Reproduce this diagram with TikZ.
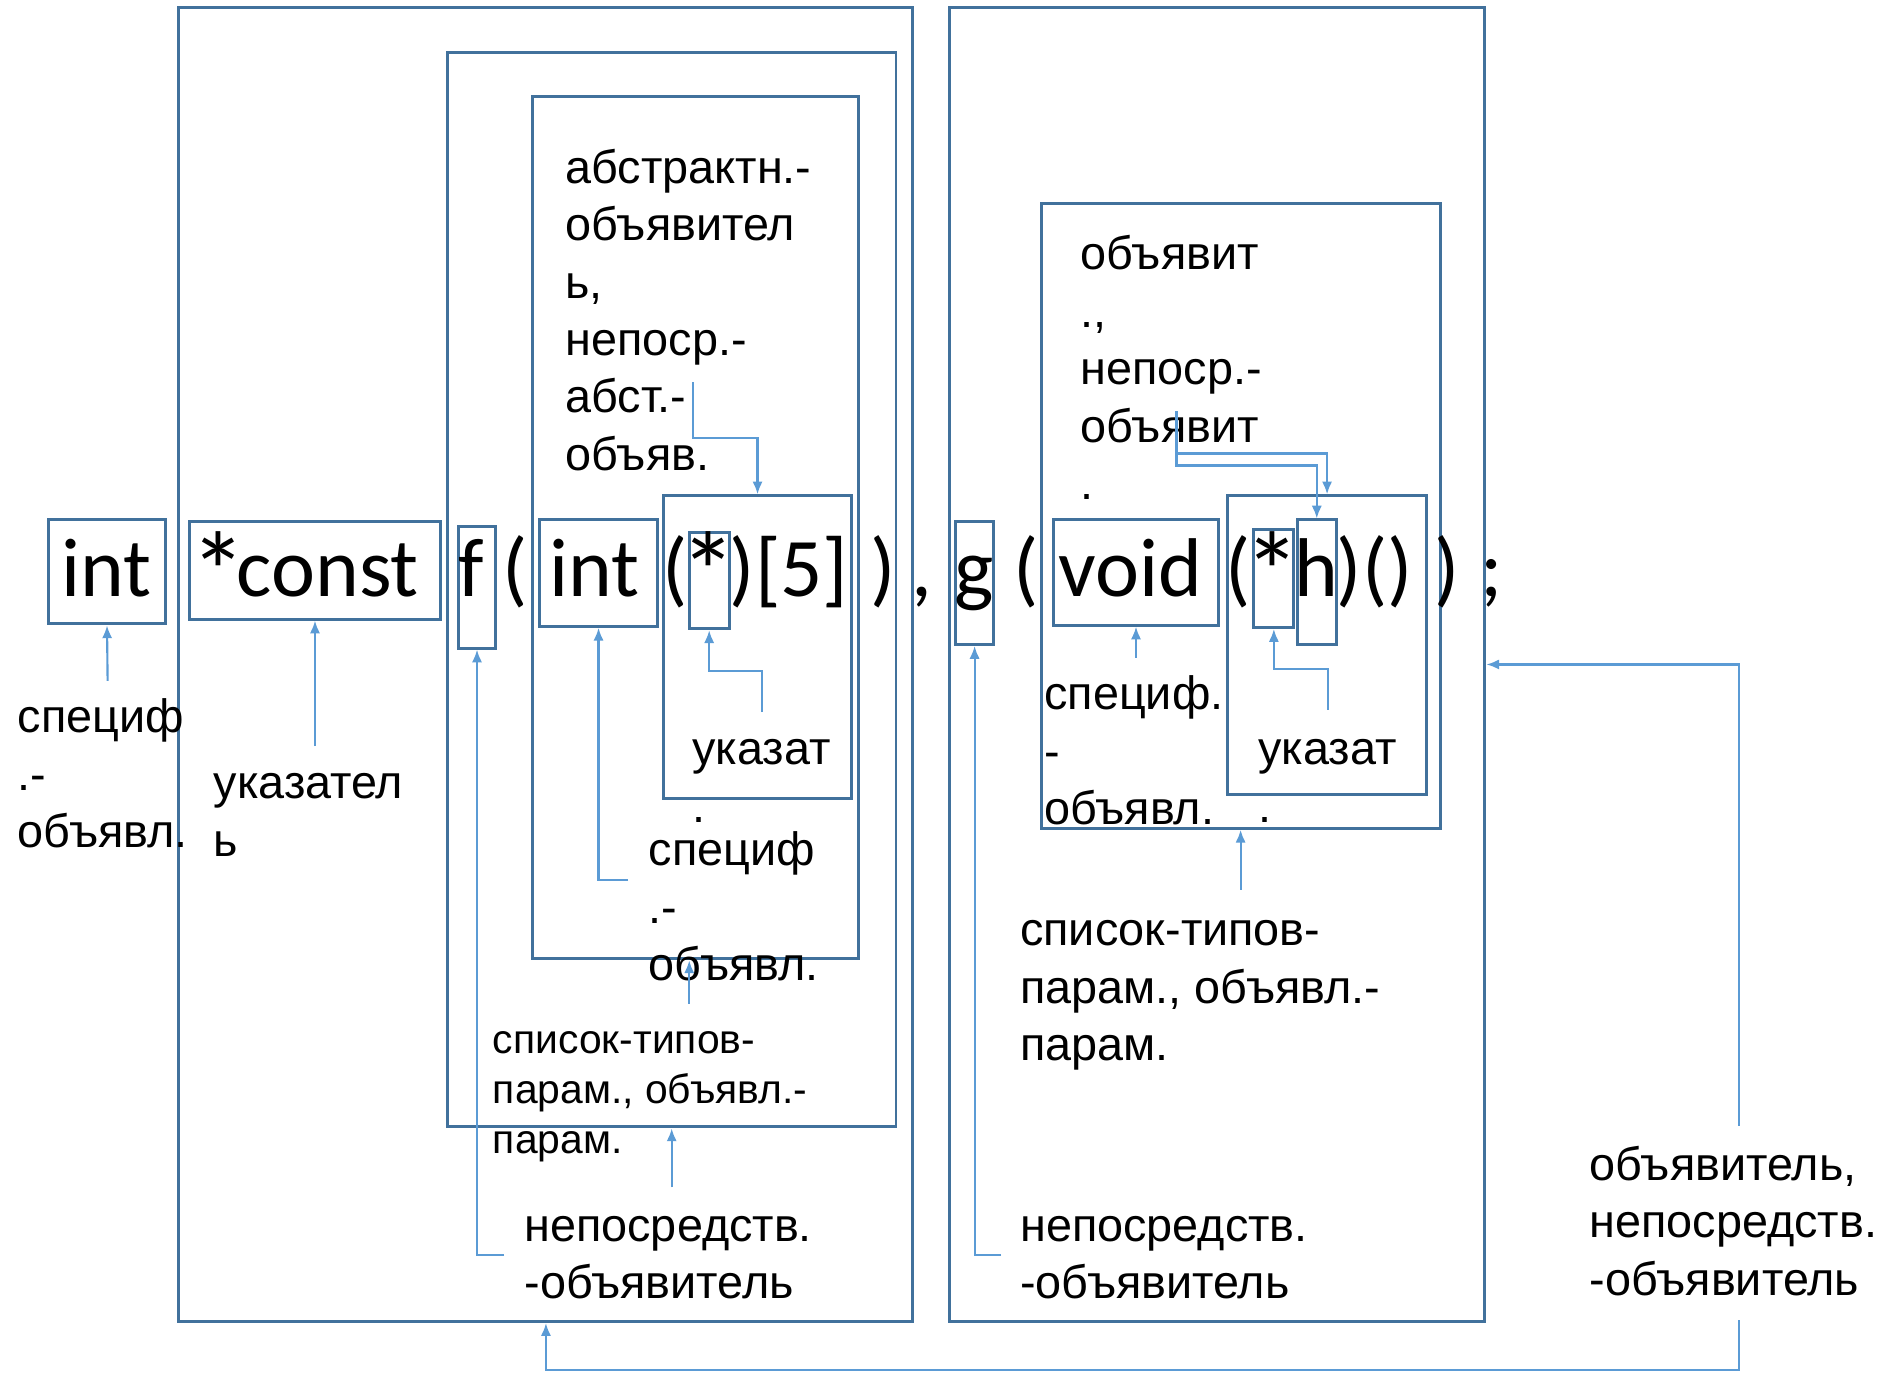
\documentclass[tikz,border=0pt]{standalone}
\usepackage{graphicx}
\usepackage{fontspec}
\setmainfont{Liberation Sans}
\newfontfamily\codefont{Carlito}
\usetikzlibrary{fit,arrows.meta}
\definecolor{boxblue}{RGB}{65,113,156}
\definecolor{linkblue}{RGB}{91,155,213}
\newcommand{\codestar}{\raisebox{-0.18em}{\scalebox{1.35}{*}}}
\tikzset{
  box/.style={draw=boxblue, line width=0.7pt, inner sep=0pt},
  conn/.style={draw=linkblue, line width=0.5pt, -{Latex[length=3pt,width=2.4pt]}},
  code/.style={anchor=base, inner sep=0pt, font=\codefont\fontsize{19.6}{22}\selectfont},
  lbl/.style={anchor=base west, align=left, inner sep=0pt, font=\fontsize{11}{13.5}\selectfont},
}
\begin{document}
\begin{tikzpicture}[x=0.01cm,y=-0.01cm]
        \useasboundingbox (0,0) rectangle (1568,1135);

        \node[box, fit={(148,6) (755,1093)}] (bLeft) {};
        \node[box, fit={(370,43) (741,932)}] (bFun) {};
        \node[box, fit={(440,80) (710,793)}] (bAbs) {};
        \node[box, fit={(549,410) (704,660)}] (bPtr) {};
        \node[box, fit={(40,430) (137,516)}] (bInt) {};
        \node[box, fit={(157,431) (364,512)}] (bConst) {};
        \node[box, fit={(379,435) (410,536)}] (bF) {};
        \node[box, fit={(446,430) (544,518)}] (bInt2) {};
        \node[box, fit={(570,440) (603,520)}] (bStar) {};
        \node[box, fit={(785,6) (1228,1093)}] (bRight) {};
        \node[box, fit={(861,168) (1191,685)}] (bPar) {};
        \node[box, fit={(1015,410) (1180,657)}] (bPtr2) {};
        \node[box, fit={(790,431) (822,533)}] (bG) {};
        \node[box, fit={(871,430) (1008,517)}] (bVoid) {};
        \node[box, fit={(1037,438) (1070,519)}] (bStar2) {};
        \node[box, fit={(1073,430) (1105,533)}] (bH) {};

        \node[code] (tInt) at (88,493) {int};
        \node[code] (tConst) at (252,493) {\codestar\kern-0.12em const};
        \node[code] (tF) at (390,493) {f};
        \node[code] (tOpen) at (426,493) {(};
        \node[code] (tInt2) at (492,493) {int};
        \node[code] (tOpen2) at (558,493) {(};
        \node[code] (tStar) at (586,493) {\codestar};
        \node[code] (tClose2) at (614,493) {)};
        \node[code] (tDim) at (663,493) {[5]};
        \node[code] (tClose) at (730,493) {)};
        \node[code] (tComma) at (762,493) {,};
        \node[code] (tG) at (806,493) {g};
        \node[code] (tOpen3) at (849,493) {(};
        \node[code] (tVoid) at (935,493) {void};
        \node[code] (tOpen4) at (1024,493) {(};
        \node[code] (tStar2) at (1052,493) {\codestar};
        \node[code] (tH) at (1089,493) {h};
        \node[code] (tTail) at (1137,493) {)()};
        \node[code] (tClose3) at (1197,493) {)};
        \node[code] (tSemi) at (1234,493) {;};

        \node[lbl] (lSpec) at (14,701) {специф\\.-\\объявл.};
        \node[lbl] (lPtr) at (176,708) {указател\\ь};
        \node[lbl] (lAbs) at (467,389) {абстрактн.-\\объявител\\ь,\\непоср.-\\абст.-\\объяв.};
        \node[lbl] (lPtrIn) at (572,680) {указат\\.};
        \node[lbl] (lSpecIn) at (536,811) {специф\\.-\\объявл.};
        \node[lbl, font=\fontsize{9.6}{11.8}\selectfont] (lList) at (407,954) {список-типов-\\парам., объявл.-\\парам.};
        \node[lbl] (lDir) at (433,1074) {непосредств.\\-объявитель};
        \node[lbl] (lDecl) at (893,413) {объявит\\.,\\непоср.-\\объявит\\.};
        \node[lbl] (lSpec2) at (863,682) {специф.\\-\\объявл.};
        \node[lbl] (lPtr2) at (1040,680) {указат\\.};
        \node[lbl] (lList2) at (843,877) {список-типов-\\парам., объявл.-\\парам.};
        \node[lbl] (lDir2) at (843,1074) {непосредств.\\-объявитель};
        \node[lbl] (lDecl2) at (1314,1071) {объявитель,\\непосредств.\\-объявитель};

        \coordinate (sInt) at (89,563);
        \coordinate (sConst) at (260.5,617);
        \coordinate (sF) at (417,1038);
        \coordinate (sInt2) at (519.5,728);
        \coordinate (sStar) at (630,589);
        \coordinate (sAbs) at (573,316);
        \coordinate (sList) at (570,830);
        \coordinate (sDir) at (555.5,982);
        \coordinate (sDecl) at (1438,1092);
        \coordinate (sDecl2) at (1438,931);
        \coordinate (sG) at (828,1038);
        \coordinate (sVoid) at (939.5,544);
        \coordinate (sStar2) at (1098,587);
        \coordinate (sList2) at (1026,736);
        \coordinate (sPar) at (973,340);

        \draw[conn] (sInt) -- (bInt.south);
        \draw[conn] (sConst) -- (bConst.south);
        \draw[conn] (sF) -| (bF.south);
        \draw[conn] (sInt2) -| (bInt2.south);
        \draw[conn] (sStar) -- ++(0,-34) -| (bStar.south);
        \draw[conn] (sAbs) -- ++(0,46) -| (bPtr.north);
        \draw[conn] (sList) -- (sList |- bAbs.south);
        \draw[conn] (sDir) -- (bFun.south);
        \draw[conn] (sDecl) -- ++(0,41) -| (bLeft.south);
        \draw[conn] (sDecl2) |- (bRight.east);
        \draw[conn] (sG) -| (bG.south);
        \draw[conn] (sVoid) -- (bVoid.south);
        \draw[conn] (sStar2) -- ++(0,-34) -| (bStar2.south);
        \draw[conn] (sList2) -- (bPar.south);
        \draw[conn] (sPar) -- ++(0,35) -| (bPtr2.north);
        \draw[conn] (sPar) -- ++(0,45) -| (bH.north);
\end{tikzpicture}
\end{document}
